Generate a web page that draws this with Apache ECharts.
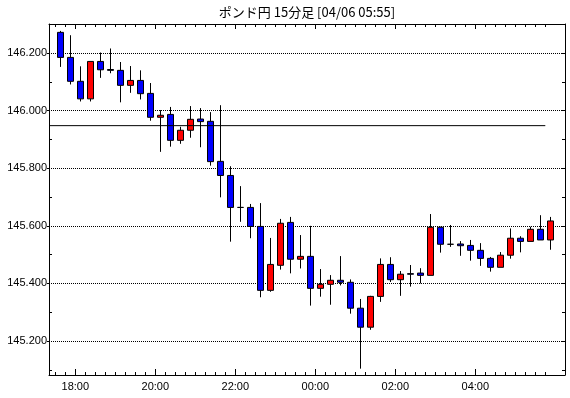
<!DOCTYPE html>
<html>
<head>
<meta charset="utf-8">
<script src="https://cdn.jsdelivr.net/npm/echarts@6/dist/echarts.min.js"></script>
<style>
html,body{margin:0;padding:0;background:#fff;}
#c{width:570px;height:398px;}
</style>
</head>
<body>
<div id="c"></div>
<script>
// 15-minute candle start times
const times = ['17:30','17:45','18:00','18:15','18:30','18:45','19:00','19:15','19:30','19:45',
  '20:00','20:15','20:30','20:45','21:00','21:15','21:30','21:45','22:00','22:15',
  '22:30','22:45','23:00','23:15','23:30','23:45','00:00','00:15','00:30','00:45',
  '01:00','01:15','01:30','01:45','02:00','02:15','02:30','02:45','03:00','03:15',
  '03:30','03:45','04:00','04:15','04:30','04:45','05:00','05:15','05:30','05:45'];
const opens = [146.272,146.185,146.102,146.041,146.171,146.143,146.140,146.088,146.105,146.060,
  145.977,145.987,145.897,145.932,145.971,145.963,145.824,145.775,145.664,145.664,
  145.598,145.376,145.463,145.612,145.484,145.494,145.383,145.397,145.411,145.404,
  145.314,145.248,145.355,145.466,145.413,145.434,145.436,145.428,145.595,145.536,
  145.537,145.532,145.515,145.487,145.456,145.498,145.557,145.546,145.588,145.551];
const closes = [146.185,146.102,146.041,146.171,146.142,146.140,146.088,146.105,146.059,145.977,
  145.984,145.897,145.932,145.970,145.962,145.823,145.775,145.664,145.664,145.598,
  145.376,145.466,145.609,145.484,145.494,145.383,145.397,145.411,145.404,145.314,
  145.248,145.355,145.466,145.413,145.432,145.432,145.428,145.595,145.536,145.536,
  145.531,145.515,145.487,145.456,145.498,145.557,145.546,145.588,145.551,145.617];
const lows = [146.152,146.091,146.032,146.032,146.114,146.130,146.029,146.062,146.039,145.965,
  145.857,145.875,145.885,145.906,145.873,145.809,145.699,145.545,145.614,145.557,
  145.352,145.371,145.448,145.435,145.452,145.323,145.354,145.326,145.393,145.295,
  145.104,145.239,145.336,145.405,145.357,145.389,145.400,145.428,145.507,145.527,
  145.496,145.479,145.461,145.441,145.456,145.486,145.508,145.546,145.551,145.517];
const highs = [146.277,146.262,146.154,146.171,146.202,146.216,146.169,146.155,146.140,146.096,
  146.002,146.013,145.944,146.016,146.009,145.995,146.019,145.807,145.738,145.676,
  145.679,145.558,145.624,145.631,145.568,145.600,145.450,145.429,145.495,145.414,
  145.346,145.357,145.487,145.491,145.443,145.464,145.453,145.641,145.597,145.603,
  145.547,145.551,145.540,145.492,145.509,145.591,145.564,145.597,145.637,145.631];
// y-axis labels and minor ticks
const yLabels = [145.2, 145.4, 145.6, 145.8, 146.0, 146.2];
const yMinor = [145.1, 145.3, 145.5, 145.7, 145.9, 146.1, 146.3];
// reference level line
const refLevel = 145.948;
const titleText = 'ポンド円 15分足 [04/06 05:55]';

const yMin = 145.082, yMax = 146.301;
const xMin = -0.63, xMax = 50.97;

const candleData = times.map((t, i) => [i + 0.5, opens[i], closes[i], lows[i], highs[i]]);
const tickIdx = times.map((t, i) => i);
const majorIdx = tickIdx.filter(i => times[i].endsWith(':00') && parseInt(times[i], 10) % 2 === 0);
const yAll = yLabels.concat(yMinor).sort((a, b) => a - b);

const FONT = '"Liberation Sans", Arial, sans-serif';
const black = '#000';

function xAx(pos, ticks, len, showLine, showLabel) {
  return {
    type: 'value', position: pos, min: xMin, max: xMax, gridIndex: 0,
    axisLine: {show: showLine, onZero: false, lineStyle: {color: black, width: 1}},
    axisTick: {show: true, inside: true, length: len, customValues: ticks, lineStyle: {color: black, width: 1}},
    axisLabel: showLabel ? {
      show: true, customValues: majorIdx, formatter: v => times[Math.round(v)],
      color: black, fontFamily: FONT, fontSize: 11, margin: 6
    } : {show: false},
    splitLine: {show: false}
  };
}
function yAx(pos, ticks, len, inside, showLine, showLabel, showSplit) {
  return {
    type: 'value', position: pos, min: yMin, max: yMax, gridIndex: 0,
    axisLine: {show: showLine, onZero: false, lineStyle: {color: black, width: 1}},
    axisTick: {show: true, inside: inside, length: len, customValues: ticks, lineStyle: {color: black, width: 1}},
    axisLabel: showLabel ? {
      show: true, customValues: yLabels, formatter: v => v.toFixed(3),
      color: black, fontFamily: FONT, fontSize: 11, margin: 2
    } : {show: false},
    splitLine: showSplit ? {show: true, lineStyle: {color: black, width: 1, type: [1, 1]}} : {show: false}
  };
}

const chart = echarts.init(document.getElementById('c'), null, {renderer: 'canvas'});
chart.setOption({
  animation: false,
  backgroundColor: '#fff',
  title: {
    text: titleText, left: 307, top: 6, padding: 0, textAlign: 'center',
    textStyle: {color: black, fontWeight: 'normal', fontSize: 13, fontFamily: '"Noto Sans CJK JP", sans-serif'}
  },
  grid: {left: 49, right: 5, top: 24, bottom: 23, containLabel: false},
  xAxis: [
    xAx('bottom', tickIdx, 3, true, true),
    xAx('bottom', majorIdx, 6, false, false),
    xAx('top', tickIdx, 3, true, false),
    xAx('top', majorIdx, 5, false, false)
  ],
  yAxis: [
    yAx('left', yLabels, 2, false, true, true, true),
    yAx('left', yMinor, 3, true, false, false, false),
    yAx('right', yAll, 3, true, true, false, false)
  ],
  series: [
    {
      type: 'candlestick', xAxisIndex: 0, yAxisIndex: 0,
      data: candleData, barWidth: 6, silent: true,
      itemStyle: {color: '#ff0000', color0: '#0000ff', borderColor: black, borderColor0: black, borderColorDoji: black, borderWidth: 1},
      emphasis: {disabled: true}
    },
    {
      type: 'line', xAxisIndex: 0, yAxisIndex: 0, silent: true,
      data: [[xMin, refLevel], [times.length - 1, refLevel]],
      symbol: 'none', lineStyle: {color: black, width: 1}, z: 5
    }
  ]
});
</script>
</body>
</html>
